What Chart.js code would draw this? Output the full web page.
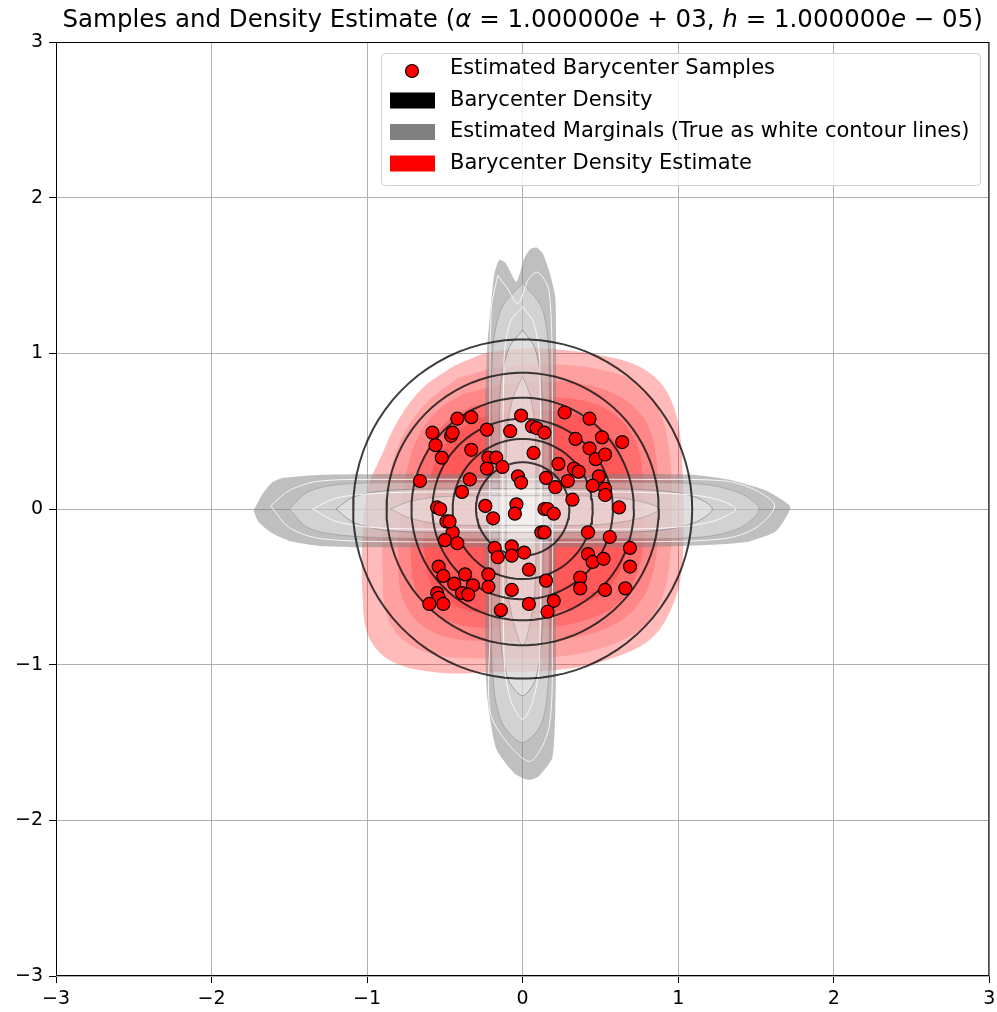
<!DOCTYPE html>
<html>
<head>
<meta charset="utf-8">
<script src="https://cdn.jsdelivr.net/npm/chart.js@4/dist/chart.umd.min.js"></script>
<style>
html,body{margin:0;padding:0;background:#fff;}
#wrap{width:997px;height:1012px;position:relative;}
</style>
</head>
<body>
<div id="wrap"><canvas id="c"></canvas></div>
<script>
// barycenter samples
const sampleX = [-0.42,-0.33,-0.58,-0.46,-0.45,-0.56,-0.52,-0.23,-0.08,-0.01,0.06,0.09,0.14,0.27,0.43,0.34,0.51,0.64,0.43,0.47,0.53,
  -0.33,-0.22,-0.17,-0.23,-0.13,0.07,0.23,0.33,0.36,-0.66,-0.34,-0.39,-0.03,-0.01,0.15,0.21,0.29,0.49,0.45,0.53,0.53,0.32,0.62,
  -0.55,-0.53,-0.24,-0.19,-0.04,-0.05,0.14,0.16,0.20,-0.49,-0.45,-0.50,-0.42,0.12,0.14,0.42,0.56,0.69,-0.18,-0.16,-0.07,-0.07,0.01,
  0.42,0.45,0.52,0.69,-0.54,-0.51,-0.37,-0.22,-0.44,-0.39,-0.32,-0.35,-0.22,0.04,0.15,0.37,0.37,0.53,0.66,-0.07,-0.55,-0.54,-0.60,
  -0.51,-0.14,0.04,0.20,0.16,-0.47];
const sampleY = [0.58,0.59,0.49,0.47,0.49,0.41,0.33,0.51,0.50,0.60,0.53,0.52,0.49,0.62,0.58,0.45,0.46,0.43,0.39,0.32,0.35,
  0.38,0.33,0.33,0.26,0.27,0.36,0.29,0.26,0.24,0.18,0.19,0.11,0.21,0.17,0.20,0.14,0.18,0.21,0.15,0.13,0.09,0.06,0.01,
  0.01,0.00,0.02,-0.06,0.03,-0.03,0.00,0.00,-0.03,-0.08,-0.15,-0.20,-0.22,-0.15,-0.15,-0.15,-0.18,-0.25,-0.25,-0.31,-0.24,-0.30,-0.28,
  -0.29,-0.34,-0.32,-0.37,-0.37,-0.43,-0.42,-0.42,-0.48,-0.54,-0.49,-0.55,-0.50,-0.39,-0.46,-0.44,-0.51,-0.52,-0.51,-0.52,-0.54,-0.57,-0.61,
  -0.61,-0.65,-0.61,-0.59,-0.66,-0.08];

// barycenter density contour levels (radii)
const densityRadii = [1.09, 0.875, 0.715, 0.58, 0.45, 0.30];

// barycenter density estimate, filled levels (outline vertices x,y)
const redLevel1 = [-0.44,0.92, -0.2,1.01, 0.13,1.03, 0.49,0.99, 0.74,0.92, 0.91,0.78, 1.0,0.55, 1.03,0.2, 1.03,-0.3, 0.98,-0.58, 0.84,-0.82, 0.6,-0.95, 0.26,-1.03, -0.2,-1.05, -0.55,-1.05, -0.84,-0.98, -0.99,-0.82, -1.03,-0.55, -1.03,-0.2, -1.0,0.12, -0.9,0.36, -0.8,0.57, -0.64,0.78];
const redLevel2 = [-0.42,0.84, -0.15,0.91, 0.15,0.93, 0.48,0.9, 0.72,0.82, 0.87,0.65, 0.94,0.4, 0.96,0.05, 0.95,-0.3, 0.9,-0.56, 0.77,-0.76, 0.55,-0.88, 0.22,-0.95, -0.2,-0.96, -0.55,-0.94, -0.77,-0.84, -0.88,-0.66, -0.9,-0.4, -0.9,-0.1, -0.86,0.2, -0.78,0.45, -0.63,0.67];
const redLevel3 = [-0.38,0.74, -0.12,0.8, 0.15,0.82, 0.45,0.79, 0.66,0.7, 0.8,0.55, 0.86,0.32, 0.87,0.0, 0.86,-0.3, 0.8,-0.52, 0.68,-0.68, 0.48,-0.79, 0.2,-0.84, -0.2,-0.85, -0.5,-0.82, -0.68,-0.72, -0.78,-0.55, -0.8,-0.3, -0.79,-0.05, -0.75,0.22, -0.68,0.45, -0.55,0.63];
const redLevel4 = [-0.33,0.66, -0.1,0.7, 0.15,0.72, 0.42,0.69, 0.6,0.6, 0.72,0.45, 0.77,0.25, 0.78,0.0, 0.77,-0.28, 0.71,-0.48, 0.6,-0.62, 0.42,-0.71, 0.18,-0.76, -0.18,-0.77, -0.45,-0.73, -0.62,-0.63, -0.7,-0.48, -0.72,-0.25, -0.71,0.0, -0.67,0.22, -0.6,0.42, -0.48,0.57];
const redLevel5 = [-0.3,0.58, -0.05,0.63, 0.2,0.63, 0.42,0.58, 0.56,0.47, 0.65,0.3, 0.68,0.05, 0.67,-0.25, 0.6,-0.45, 0.45,-0.58, 0.2,-0.66, -0.15,-0.68, -0.42,-0.63, -0.57,-0.52, -0.63,-0.3, -0.63,0.0, -0.58,0.25, -0.47,0.45];
const redLevels = [redLevel1, redLevel2, redLevel3, redLevel4, redLevel5];
const redAlphas = [0.27, 0.14, 0.16, 0.18, 0.2];

// estimated marginals (horizontal and vertical), outer level then inner levels
const hOuter = [-1.73,-0.01, -1.67,0.10, -1.61,0.17, -1.54,0.20, -1.28,0.22, -0.8,0.225, 0,0.225, 0.8,0.225, 1.09,0.22, 1.32,0.19, 1.56,0.12, 1.72,0.015, 1.67,-0.09, 1.62,-0.15, 1.45,-0.21, 1.21,-0.23, 0.8,-0.245, 0,-0.245, -0.8,-0.245, -1.11,-0.245, -1.28,-0.24, -1.5,-0.205, -1.62,-0.15, -1.70,-0.08];
const hLevel2 = [-1.5,0.0, -1.38,0.11, -1.15,0.16, -0.6,0.17, 0.6,0.17, 1.15,0.16, 1.4,0.1, 1.52,0.0, 1.4,-0.12, 1.15,-0.18, 0.6,-0.19, -0.6,-0.19, -1.15,-0.17, -1.38,-0.12];
const hLevel3 = [-1.2,0.0, -1.08,0.08, -0.85,0.12, -0.4,0.13, 0.4,0.13, 0.85,0.12, 1.1,0.08, 1.22,0.0, 1.1,-0.09, 0.85,-0.14, 0.4,-0.15, -0.4,-0.15, -0.85,-0.14, -1.08,-0.09];
const hLevel4 = [-0.85,0.0, -0.72,0.05, -0.5,0.08, 0,0.085, 0.5,0.08, 0.75,0.05, 0.88,0.0, 0.75,-0.06, 0.5,-0.1, 0,-0.105, -0.5,-0.1, -0.72,-0.06];
const hTrue1 = [-1.62,0.02, -1.5,0.12, -1.3,0.18, -0.8,0.19, 0.8,0.19, 1.3,0.18, 1.5,0.12, 1.62,0.02, 1.5,-0.12, 1.3,-0.19, 0.8,-0.21, -0.8,-0.21, -1.3,-0.19, -1.5,-0.12];
const hTrue2 = [-1.35,0.0, -1.2,0.07, -0.95,0.1, -0.5,0.11, 0.5,0.11, 0.95,0.1, 1.22,0.07, 1.37,0.0, 1.22,-0.08, 0.95,-0.12, 0.5,-0.13, -0.5,-0.13, -0.95,-0.12, -1.2,-0.08];
const vOuter = [-0.2,1.36, -0.18,1.52, -0.15,1.60, -0.11,1.58, -0.04,1.46, 0.01,1.61, 0.05,1.67, 0.09,1.68, 0.13,1.64, 0.17,1.53, 0.21,1.36, 0.215,1.0, 0.215,0.0, 0.215,-1.0, 0.21,-1.3, 0.19,-1.6, 0.1,-1.72, 0.04,-1.74, -0.05,-1.7, -0.17,-1.54, -0.23,-1.18, -0.244,-0.5, -0.244,0.5, -0.23,1.0];
const vLevel2 = [0.0,1.45, 0.12,1.3, 0.165,1.05, 0.17,0.5, 0.17,-0.5, 0.165,-1.1, 0.12,-1.38, 0.0,-1.5, -0.13,-1.38, -0.19,-1.1, -0.2,-0.5, -0.2,0.5, -0.19,1.05, -0.13,1.3];
const vLevel3 = [0.0,1.15, 0.08,1.03, 0.12,0.8, 0.13,0.4, 0.13,-0.4, 0.12,-0.85, 0.08,-1.1, 0.0,-1.2, -0.09,-1.1, -0.14,-0.85, -0.15,-0.4, -0.15,0.4, -0.14,0.8, -0.09,1.03];
const vLevel4 = [0.0,0.85, 0.05,0.72, 0.08,0.5, 0.085,0.0, 0.08,-0.5, 0.05,-0.72, 0.0,-0.88, -0.06,-0.72, -0.1,-0.5, -0.105,0.0, -0.1,0.5, -0.06,0.72];
const vTrue1 = [-0.16,1.5, -0.1,1.42, -0.03,1.32, 0.04,1.48, 0.1,1.52, 0.17,1.4, 0.19,0.8, 0.19,-0.8, 0.17,-1.4, 0.05,-1.62, -0.1,-1.5, -0.21,-1.3, -0.21,-0.8, -0.21,0.8, -0.2,1.3];
const vTrue2 = [0.0,1.3, 0.07,1.2, 0.11,0.95, 0.11,-0.95, 0.07,-1.22, 0.0,-1.35, -0.08,-1.22, -0.12,-0.95, -0.12,0.95, -0.08,1.2];

const tickValues = [-3, -2, -1, 0, 1, 2, 3];
const legendLabels = ["Estimated Barycenter Samples", "Barycenter Density",
  "Estimated Marginals (True as white contour lines)", "Barycenter Density Estimate"];
const legendColors = ["#ff0000", "#000000", "#808080", "#ff0000"];

function toPts(flat) {
  let pts = [];
  for (let i = 0; i < flat.length; i += 2) pts.push({x: flat[i], y: flat[i + 1]});
  pts.push({x: flat[0], y: flat[1]});
  return pts;
}

function circlePts(r) {
  let pts = [];
  for (let i = 0; i <= 90; i++) {
    let a = i / 90 * Math.PI * 2;
    pts.push({x: r * Math.cos(a), y: r * Math.sin(a)});
  }
  return pts;
}

function shape(flat, fillColor, lineColor, order, tension) {
  return {
    type: "line", data: toPts(flat), showLine: true, fill: fillColor ? "shape" : false,
    backgroundColor: fillColor || "rgba(0,0,0,0)", borderColor: lineColor, borderWidth: 1,
    pointRadius: 0, pointHitRadius: 0, tension: tension, order: order
  };
}

let datasets = [];

datasets.push({
  type: "scatter", label: legendLabels[0],
  data: sampleX.map((x, i) => ({x: x, y: sampleY[i]})),
  backgroundColor: "#ff0000", borderColor: "#000000", borderWidth: 1.2,
  pointRadius: 6.5, order: 0
});

densityRadii.forEach(r => {
  datasets.push({
    type: "line", data: circlePts(r), showLine: true, fill: false,
    borderColor: "rgba(20,20,20,0.82)", borderWidth: 2,
    pointRadius: 0, pointHitRadius: 0, tension: 0, order: 1
  });
});

// marginals: true contours as white lines, estimated levels as grey fills
[hTrue1, vTrue1, hTrue2, vTrue2].forEach(s => datasets.push(shape(s, null, "rgba(255,255,255,0.85)", 2, 0.3)));
[hLevel4, vLevel4].forEach(s => datasets.push(shape(s, "rgba(255,255,255,0.3)", "rgba(140,140,140,0.5)", 3, 0.3)));
[hLevel3, vLevel3].forEach(s => datasets.push(shape(s, "rgba(255,255,255,0.3)", "rgba(120,120,120,0.6)", 3, 0.3)));
[hLevel2, vLevel2].forEach(s => datasets.push(shape(s, "rgba(255,255,255,0.3)", "rgba(140,140,140,0.5)", 4, 0.3)));
[hOuter, vOuter].forEach(s => datasets.push(shape(s, "rgba(128,128,128,0.5)", "rgba(128,128,128,0)", 5, 0.2)));

// density estimate
redLevels.forEach((lv, i) => {
  datasets.push(shape(lv, "rgba(255,0,0," + redAlphas[i] + ")", "rgba(255,0,0,0)", 10 - i, 0.35));
});

const frameTitle = {
  id: "frameTitle",
  afterDatasetsDraw(chart) {
    const a = chart.chartArea, ctx = chart.ctx;
    ctx.save();
    ctx.strokeStyle = "#000";
    ctx.lineWidth = 1;
    ctx.strokeRect(a.left + 0.5, a.top + 0.5, a.right - a.left - 1, a.bottom - a.top - 1);
    ctx.restore();
  },
  afterDraw(chart) {
    const a = chart.chartArea, ctx = chart.ctx;
    ctx.save();
    // title
    const segs = [["Samples and Density Estimate (", 0], ["α", 1], [" = 1.000000", 0], ["e", 1], [" + 03, ", 0],
      ["h", 1], [" = 1.000000", 0], ["e", 1], [" − 05)", 0]];
    const reg = '24.5px "DejaVu Sans"', ita = 'italic 24.5px "DejaVu Sans"';
    let w = 0;
    segs.forEach(s => { ctx.font = s[1] ? ita : reg; w += ctx.measureText(s[0]).width; });
    let x = (a.left + a.right) / 2 - w / 2;
    ctx.fillStyle = "#000";
    ctx.textBaseline = "alphabetic";
    segs.forEach(s => { ctx.font = s[1] ? ita : reg; ctx.fillText(s[0], x, 27); x += ctx.measureText(s[0]).width; });

    // legend
    const bx = 381, by = 53, bw = 599, bh = 132;
    ctx.beginPath();
    ctx.roundRect(bx + 0.5, by + 0.5, bw, bh, 4);
    ctx.fillStyle = "rgba(255,255,255,0.8)";
    ctx.fill();
    ctx.strokeStyle = "#d0d0d0";
    ctx.lineWidth = 1;
    ctx.stroke();
    ctx.font = '21px "DejaVu Sans"';
    ctx.textBaseline = "middle";
    legendLabels.forEach((lab, i) => {
      const cy = 69 + i * 31.5;
      if (i === 0) {
        ctx.beginPath();
        ctx.arc(412, cy + 2, 6.5, 0, Math.PI * 2);
        ctx.fillStyle = legendColors[0];
        ctx.fill();
        ctx.strokeStyle = "#000";
        ctx.lineWidth = 1.2;
        ctx.stroke();
      } else {
        ctx.fillStyle = legendColors[i];
        ctx.fillRect(390, cy - 8, 45, 16);
      }
      ctx.fillStyle = "#000";
      ctx.fillText(lab, 450, cy);
    });
    ctx.restore();
  }
};

const fmt = v => (v < 0 ? "\u2212" + Math.abs(v) : "" + v);

new Chart(document.getElementById("c"), {
  type: "scatter",
  data: {datasets: datasets},
  options: {
    responsive: true, maintainAspectRatio: false, animation: false, events: [],
    layout: {padding: {top: 42, right: 7, left: 0, bottom: 0}},
    plugins: {legend: {display: false}, tooltip: {enabled: false}, title: {display: false}},
    scales: {
      x: {
        type: "linear", min: -3, max: 3,
        afterBuildTicks: s => { s.ticks = tickValues.map(v => ({value: v})); },
        afterFit: s => { s.height = 36; s.paddingLeft = 0; s.paddingRight = 0; },
        ticks: {callback: fmt, color: "#000", font: {family: "DejaVu Sans", size: 19}, padding: 5, maxRotation: 0, autoSkip: false},
        grid: {color: "#b0b0b0", lineWidth: 1, tickLength: 7, tickColor: "#000"},
        border: {display: false}
      },
      y: {
        type: "linear", min: -3, max: 3,
        afterBuildTicks: s => { s.ticks = tickValues.map(v => ({value: v})); },
        afterFit: s => { s.width = 56; s.paddingTop = 0; s.paddingBottom = 0; },
        ticks: {callback: fmt, color: "#000", font: {family: "DejaVu Sans", size: 19}, padding: 6, autoSkip: false},
        grid: {color: "#b0b0b0", lineWidth: 1, tickLength: 7, tickColor: "#000"},
        border: {display: false}
      }
    }
  },
  plugins: [frameTitle]
});
</script>
</body>
</html>
